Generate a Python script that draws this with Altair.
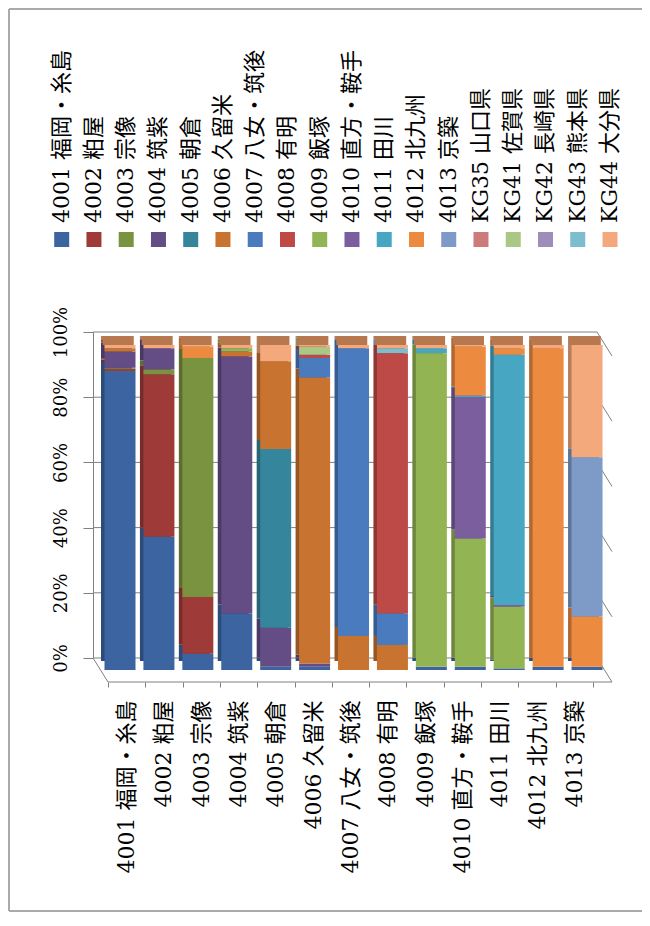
import altair as alt
import pandas as pd

# ---------------- data ----------------
cats = ["4001 福岡・糸島", "4002 粕屋", "4003 宗像", "4004 筑紫", "4005 朝倉",
        "4006 久留米", "4007 八女・筑後", "4008 有明", "4009 飯塚",
        "4010 直方・鞍手", "4011 田川", "4012 北九州", "4013 京築"]
series_names = cats + ["KG35 山口県", "KG41 佐賀県", "KG42 長崎県", "KG43 熊本県", "KG44 大分県"]

s4001 = [92, 41, 5, 17.4, 1, 1, 0, 0, 1, 1, 0.5, 1, 1]
s4002 = [0.7, 50, 17.5, 0, 0, 0, 0, 0, 0, 0, 0, 0, 0]
s4003 = [0.3, 1.5, 73.5, 0, 0, 0, 0, 0, 0, 0, 0, 0, 0]
s4004 = [5, 6.5, 0, 79, 12, 1, 0, 0, 0, 0, 0, 0, 0]
s4005 = [0, 0, 0, 0, 55, 0, 0, 0, 0, 0, 0, 0, 0]
s4006 = [1, 0, 0, 1.5, 27, 88, 10.5, 7.7, 0, 0, 0, 0, 0]
s4007 = [0, 0, 0, 0, 0, 6, 88.5, 9.7, 0, 0, 0, 0, 0]
s4008 = [0, 0, 0, 0, 0, 1, 0, 80, 0, 0, 0, 0, 0]
s4009 = [0, 0, 0, 1, 0, 0, 0, 0, 96.5, 39.5, 19, 0, 0]
s4010 = [0, 0, 0, 0, 0, 0, 0, 0, 0, 43.5, 0.5, 0, 0]
s4011 = [0, 0, 0, 0, 0, 0, 0, 0, 1.5, 0.5, 77, 0, 0]
s4012 = [0, 0, 3.5, 0, 0, 0, 0, 0, 0, 15, 2, 98, 15.5]
s4013 = [0, 0, 0, 0, 0, 0, 0, 0, 0, 0, 0, 0, 49]
sKG35 = [0, 0, 0, 0, 0, 0, 0, 0, 0, 0, 0, 0, 0]
sKG41 = [0, 0, 0, 0, 0, 2.5, 0, 0, 0, 0, 0, 0, 0]
sKG42 = [0, 0, 0, 0, 0, 0, 0, 0, 0, 0, 0, 0, 0]
sKG43 = [0, 0, 0, 0, 0, 0, 0, 1.5, 0, 0, 0, 0, 0]
sKG44 = [1, 1, 0.5, 1, 5, 0.5, 1, 1, 1, 0.5, 1, 1, 34.5]

series_values = [s4001, s4002, s4003, s4004, s4005, s4006, s4007, s4008, s4009,
                 s4010, s4011, s4012, s4013, sKG35, sKG41, sKG42, sKG43, sKG44]

axis_ticks = [0, 0.2, 0.4, 0.6, 0.8, 1.0]

colors = ["#3B64A0", "#9E3B38", "#7A9340", "#644C85", "#35869C", "#C8732F",
          "#4A7BBF", "#BE4A47", "#93B453", "#7A5E9E", "#47A6C2", "#EC8B40",
          "#7E9BC8", "#CD7B7A", "#ABC785", "#9E8DBA", "#7DBDD0", "#F3A97C"]


def darker(h, f=0.75):
    r, g, b = int(h[1:3], 16), int(h[3:5], 16), int(h[5:7], 16)
    return "#%02X%02X%02X" % (int(r * f), int(g * f), int(b * f))


dark_colors = [darker(c) for c in colors]

rows = []
for si, (name, vals) in enumerate(zip(series_names, series_values)):
    for ci, v in enumerate(vals):
        if v > 0:
            rows.append({"cat": cats[ci], "series": name, "idx": si, "value": v})
df = pd.DataFrame(rows)
cat_df = pd.DataFrame({"cat": cats, "top": [1.0] * len(cats)})
leg_df = pd.DataFrame({"name": series_names})
grid_df = pd.DataFrame({"v": axis_ticks})
one = pd.DataFrame({"k": [0]})

FONT = "DejaVu Serif, Noto Sans CJK JP"
GRID = "#808080"
FRAME = "#AAAAAA"

# ---------------- scales ----------------
xbars = alt.Scale(type="band", domain=cats, range=[7.54, 513.5], paddingInner=0.2, paddingOuter=0.1)
ybars = alt.Scale(domain=[0, 1], range=[338, 13])
ygrid = alt.Scale(domain=[0, 1], range=[326, 0])
cfront = alt.Scale(domain=series_names, range=colors)
cback = alt.Scale(domain=series_names, range=dark_colors)

# ---------------- frame ----------------
frame_left = alt.Chart(one).mark_rule(color=FRAME, strokeWidth=2).encode(
    x=alt.value(-84), y=alt.value(-323), y2=alt.value(579))
frame_top = alt.Chart(one).mark_rule(color=FRAME, strokeWidth=2).encode(
    x=alt.value(-84), x2=alt.value(560), y=alt.value(-323))
frame_bottom = alt.Chart(one).mark_rule(color=FRAME, strokeWidth=2).encode(
    x=alt.value(-84), x2=alt.value(560), y=alt.value(579))

# ---------------- walls ----------------
grid = alt.Chart(grid_df).mark_rule(color=GRID, strokeWidth=1).encode(
    x=alt.value(0), x2=alt.value(504),
    y=alt.Y("v:Q", scale=ygrid,
            axis=alt.Axis(orient="left", values=axis_ticks, format=".0%", tickSize=10,
                          tickColor=GRID, domainColor=GRID, labelAngle=270,
                          labelAlign="center", labelBaseline="bottom", labelPadding=13,
                          labelFontSize=18, labelFont=FONT, labelColor="black",
                          labelFlush=False, labelOverlap=False, title=None, grid=False)))
side = alt.Chart(grid_df).mark_rule(color=GRID, strokeWidth=1, y2Offset=24).encode(
    x=alt.value(504), x2=alt.value(519),
    y=alt.Y("v:Q", scale=ygrid, axis=None), y2=alt.Y2("v:Q"))
floor_left = alt.Chart(one).mark_rule(color=GRID, strokeWidth=1).encode(
    x=alt.value(0), x2=alt.value(15), y=alt.value(326), y2=alt.value(350))
floor_front = alt.Chart(one).mark_rule(color=GRID, strokeWidth=1).encode(
    x=alt.value(15), x2=alt.value(519), y=alt.value(350))

# ---------------- bars ----------------
back = alt.Chart(df).mark_bar(width=31, xOffset=-3.5, yOffset=-9, y2Offset=-9).encode(
    x=alt.X("cat:N", sort=cats, scale=xbars, axis=None),
    y=alt.Y("value:Q", stack="normalize", scale=ybars, axis=None),
    color=alt.Color("series:N", scale=cback, legend=None),
    order=alt.Order("idx:Q", sort="ascending"))
front = alt.Chart(df).mark_bar(width=31).encode(
    x=alt.X("cat:N", sort=cats, scale=xbars, axis=None),
    y=alt.Y("value:Q", stack="normalize", scale=ybars, axis=None),
    color=alt.Color("series:N", scale=cfront, legend=None),
    order=alt.Order("idx:Q", sort="ascending"))
cap = alt.Chart(cat_df).mark_bar(width=31, xOffset=-1.75, color="#B7774F", y2Offset=-9).encode(
    x=alt.X("cat:N", sort=cats, scale=xbars, axis=None),
    y=alt.Y("top:Q", scale=ybars, axis=None), y2=alt.Y2("top:Q"))

# ---------------- category axis ----------------
xaxis = alt.Chart(cat_df).mark_point(opacity=0).encode(
    x=alt.X("cat:N", sort=cats,
            scale=alt.Scale(type="band", domain=cats, range=[15, 500], paddingInner=0, paddingOuter=0),
            axis=alt.Axis(orient="bottom", tickBand="extent", domain=False, tickSize=5,
                          tickColor=GRID, labelAngle=270, labelAlign="right",
                          labelBaseline="middle", labelPadding=13, labelFontSize=22,
                          labelFont=FONT, labelColor="black", labelLimit=400,
                          labelOverlap=False, title=None)),
    y=alt.value(340))

# ---------------- legend ----------------
xleg = alt.Scale(type="point", domain=series_names, range=[-31.3, 517], padding=0)
leg_sq = alt.Chart(leg_df).mark_square(size=225, opacity=1).encode(
    x=alt.X("name:N", sort=series_names, scale=xleg, axis=None),
    y=alt.value(-92.5),
    color=alt.Color("name:N", scale=cfront, legend=None))
leg_tx = alt.Chart(leg_df).mark_text(angle=270, align="left", baseline="middle",
                                     fontSize=22, font=FONT, color="black").encode(
    x=alt.X("name:N", sort=series_names, scale=xleg, axis=None),
    y=alt.value(-109),
    text="name:N")

chart = alt.layer(
    frame_left, frame_top, frame_bottom,
    grid, side, floor_left, floor_front,
    back, front, cap, xaxis, leg_sq, leg_tx
).resolve_scale(
    x="independent", y="independent", color="independent"
).properties(
    width=520, height=350,
    padding={"left": 85, "top": 324, "right": 29, "bottom": 231},
    autosize=alt.AutoSizeParams(type="none"),
    background="white"
).configure_view(strokeWidth=0)

chart.save("out.html", embed_options={"renderer": "svg", "actions": False})
